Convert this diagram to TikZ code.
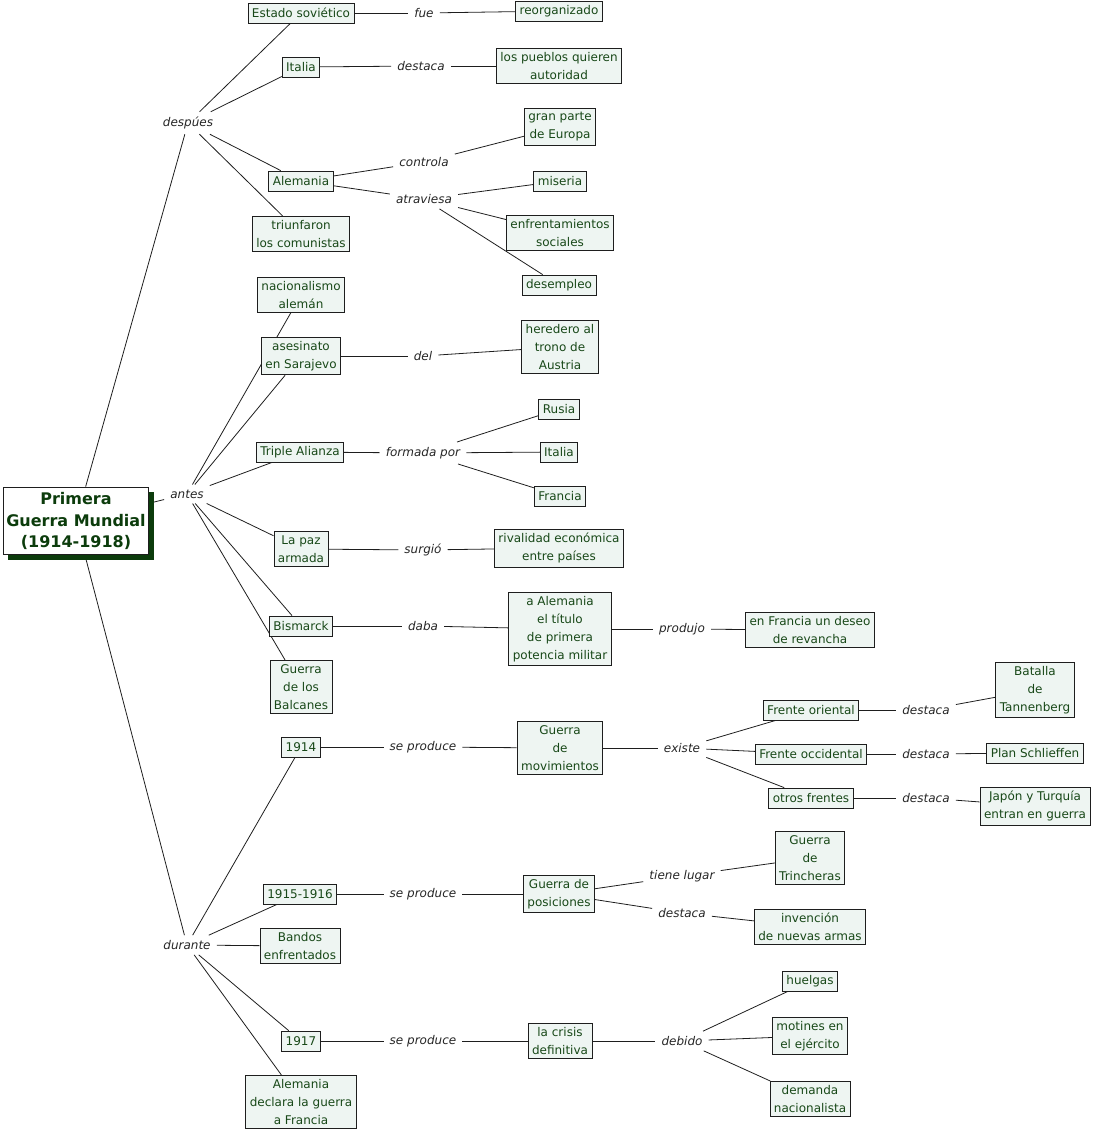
\documentclass[tikz,border=0pt]{standalone}
\usepackage{fontspec}
\setmainfont{DejaVu Sans}
\usetikzlibrary{positioning, backgrounds, shadows}
\definecolor{cmapgreen}{RGB}{24,72,24}
\definecolor{cmapfill}{RGB}{238,245,242}
\definecolor{cmapdark}{RGB}{12,60,12}
\definecolor{cmapline}{RGB}{30,30,30}
\tikzset{
  concept/.style={rectangle, draw=cmapline, fill=cmapfill, text=cmapgreen,
    align=center, inner xsep=4pt, inner ysep=4pt, minimum height=20pt,
    font=\fontsize{12}{18}\selectfont, line width=0.8pt},
  mainconcept/.style={rectangle, draw=cmapline, fill=white, text=cmapdark,
    align=center, font=\fontsize{16}{21.5}\selectfont\bfseries,
    inner xsep=3pt, inner ysep=5pt, line width=1.4pt,
    drop shadow={shadow xshift=5pt, shadow yshift=-5pt, fill=cmapdark, opacity=1}},
  linkphrase/.style={inner xsep=6pt, inner ysep=5pt, text=black!85,
    font=\fontsize{12}{17}\selectfont\itshape},
  link/.style={draw=cmapline, line width=0.8pt}
}
\begin{document}
\begin{tikzpicture}[x=1pt, y=-1pt]
    \useasboundingbox (0,0) rectangle (1094,1130);
    % Main concept
    \node[mainconcept] (guerra) at (76,521) {Primera\\Guerra Mundial\\(1914-1918)};
    \node[linkphrase] (despues) at (188,123) {despúes};
    \node[linkphrase] (antes) at (187,494) {antes};
    \node[linkphrase] (durante) at (187,945) {durante};
    % despues
    \node[concept] (estado) at (301,13) {Estado soviético};
    \node[linkphrase] (fue) at (424,13) {fue};
    \node[concept] (reorg) at (559,11) {reorganizado};
    \node[concept] (italiaA) at (301,67) {Italia};
    \node[linkphrase] (destacaA) at (421,66) {destaca};
    \node[concept] (pueblos) at (559,66) {los pueblos quieren\\autoridad};
    \node[concept] (alemania) at (301,181) {Alemania};
    \node[concept] (comunistas) at (301,234) {triunfaron\\los comunistas};
    \node[linkphrase] (controla) at (424,162) {controla};
    \node[concept] (europa) at (560,127) {gran parte\\de Europa};
    \node[linkphrase] (atraviesa) at (424,199) {atraviesa};
    \node[concept] (miseria) at (560,181) {miseria};
    \node[concept] (enfrent) at (560,233) {enfrentamientos\\sociales};
    \node[concept] (desempleo) at (559,285) {desempleo};
    % antes
    \node[concept] (nacionalismo) at (301,295) {nacionalismo\\alemán};
    \node[concept] (sarajevo) at (301,356) {asesinato\\en Sarajevo};
    \node[linkphrase] (del) at (423,356) {del};
    \node[concept] (heredero) at (560,347) {heredero al\\trono de\\Austria};
    \node[concept] (triple) at (300,452) {Triple Alianza};
    \node[linkphrase] (formada) at (423,453) {formada por};
    \node[concept] (rusia) at (559,409) {Rusia};
    \node[concept] (italiaB) at (559,452) {Italia};
    \node[concept] (francia) at (560,496) {Francia};
    \node[concept] (paz) at (301,549) {La paz\\armada};
    \node[linkphrase] (surgio) at (423,550) {surgió};
    \node[concept] (rivalidad) at (559,548) {rivalidad económica\\entre países};
    \node[concept] (bismarck) at (301,626) {Bismarck};
    \node[linkphrase] (daba) at (423,626) {daba};
    \node[concept] (titulo) at (560,629) {a Alemania\\el título\\de primera\\potencia militar};
    \node[linkphrase] (produjo) at (682,629) {produjo};
    \node[concept] (revancha) at (810,630) {en Francia un deseo\\de revancha};
    \node[concept] (balcanes) at (301,687) {Guerra\\de los\\Balcanes};
    % durante
    \node[concept] (yA) at (301,747) {1914};
    \node[linkphrase] (produceA) at (423,747) {se produce};
    \node[concept] (movim) at (560,748) {Guerra\\de\\movimientos};
    \node[linkphrase] (existe) at (682,748) {existe};
    \node[concept] (oriental) at (811,710) {Frente oriental};
    \node[concept] (occidental) at (811,754) {Frente occidental};
    \node[concept] (otros) at (811,798) {otros frentes};
    \node[linkphrase] (destacaB) at (926,710) {destaca};
    \node[concept] (tannenberg) at (1035,690) {Batalla\\de\\Tannenberg};
    \node[linkphrase] (destacaC) at (926,754) {destaca};
    \node[concept] (schlieffen) at (1035,753) {Plan Schlieffen};
    \node[linkphrase] (destacaD) at (926,798) {destaca};
    \node[concept] (japon) at (1035,806) {Japón y Turquía\\entran en guerra};
    \node[concept] (yB) at (300,894) {1915-1916};
    \node[linkphrase] (produceB) at (423,894) {se produce};
    \node[concept] (posiciones) at (559,894) {Guerra de\\posiciones};
    \node[linkphrase] (lugar) at (682,876) {tiene lugar};
    \node[concept] (trincheras) at (810,858) {Guerra\\de\\Trincheras};
    \node[linkphrase] (destacaE) at (682,913) {destaca};
    \node[concept] (armas) at (810,927) {invención\\de nuevas armas};
    \node[concept] (bandos) at (300,946) {Bandos\\enfrentados};
    \node[concept] (yC) at (301,1041) {1917};
    \node[linkphrase] (produceC) at (423,1041) {se produce};
    \node[concept] (crisis) at (560,1041) {la crisis\\definitiva};
    \node[linkphrase] (debido) at (682,1041) {debido};
    \node[concept] (huelgas) at (810,981) {huelgas};
    \node[concept] (motines) at (810,1036) {motines en\\el ejército};
    \node[concept] (demanda) at (810,1099) {demanda\\nacionalista};
    \node[concept] (declara) at (301,1102) {Alemania\\declara la guerra\\a Francia};
    % Connectors
    \begin{scope}[on background layer]
      \foreach \a/\b in {guerra/despues, guerra/antes, guerra/durante,
          despues/estado, estado/fue, fue/reorg,
          despues/italiaA, italiaA/destacaA, destacaA/pueblos,
          despues/alemania, despues/comunistas,
          alemania/controla, controla/europa,
          alemania/atraviesa, atraviesa/miseria, atraviesa/enfrent, atraviesa/desempleo,
          antes/nacionalismo, antes/sarajevo, sarajevo/del, del/heredero,
          antes/triple, triple/formada, formada/rusia, formada/italiaB, formada/francia,
          antes/paz, paz/surgio, surgio/rivalidad,
          antes/bismarck, bismarck/daba, daba/titulo, titulo/produjo, produjo/revancha,
          antes/balcanes,
          durante/yA, yA/produceA, produceA/movim, movim/existe,
          existe/oriental, existe/occidental, existe/otros,
          oriental/destacaB, destacaB/tannenberg,
          occidental/destacaC, destacaC/schlieffen,
          otros/destacaD, destacaD/japon,
          durante/yB, yB/produceB, produceB/posiciones,
          posiciones/lugar, lugar/trincheras, posiciones/destacaE, destacaE/armas,
          durante/bandos,
          durante/yC, yC/produceC, produceC/crisis, crisis/debido,
          debido/huelgas, debido/motines, debido/demanda,
          durante/declara}
        \draw[link] (\a) -- (\b);
    \end{scope}
\end{tikzpicture}
\end{document}
